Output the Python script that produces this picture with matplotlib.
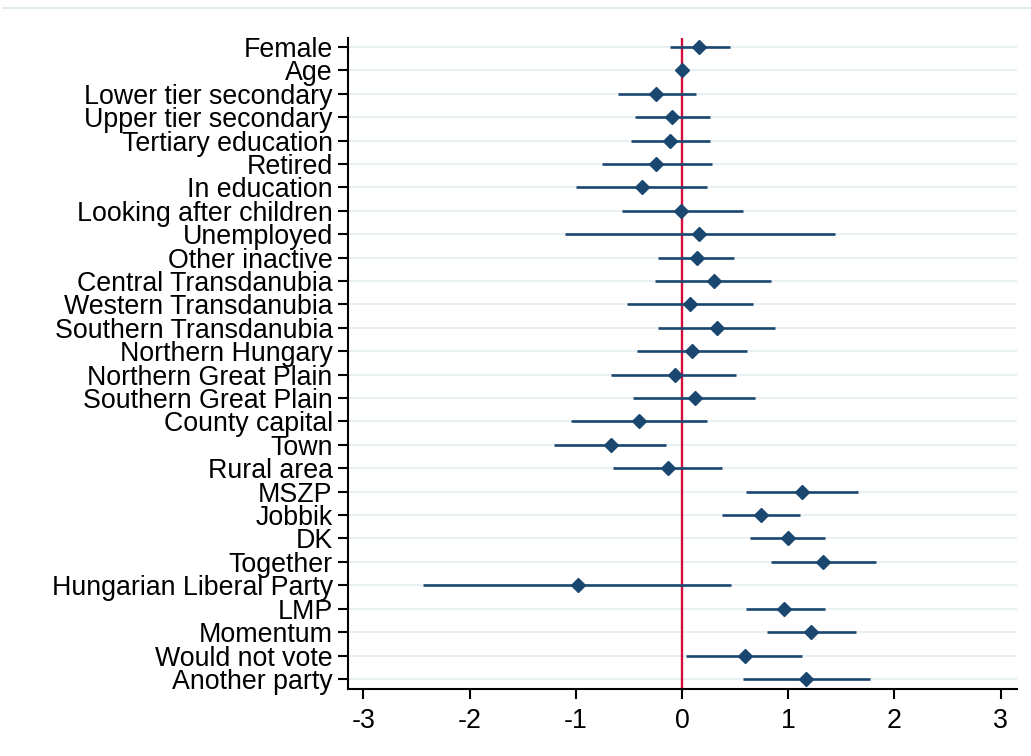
import matplotlib
matplotlib.use("Agg")
import matplotlib.pyplot as plt
from matplotlib.lines import Line2D

labels = ["Female", "Age", "Lower tier secondary", "Upper tier secondary",
          "Tertiary education", "Retired", "In education", "Looking after children",
          "Unemployed", "Other inactive", "Central Transdanubia", "Western Transdanubia",
          "Southern Transdanubia", "Northern Hungary", "Northern Great Plain",
          "Southern Great Plain", "County capital", "Town", "Rural area", "MSZP",
          "Jobbik", "DK", "Together", "Hungarian Liberal Party", "LMP", "Momentum",
          "Would not vote", "Another party"]
coef = [0.16, 0.00, -0.24, -0.09, -0.11, -0.24, -0.38, -0.01, 0.16, 0.14,
        0.30, 0.08, 0.33, 0.09, -0.07, 0.12, -0.40, -0.67, -0.13, 1.13,
        0.74, 1.00, 1.33, -0.98, 0.96, 1.21, 0.59, 1.17]
ci_low = [-0.11, -0.01, -0.60, -0.44, -0.48, -0.75, -1.00, -0.56, -1.10, -0.23,
          -0.25, -0.52, -0.23, -0.42, -0.67, -0.46, -1.04, -1.20, -0.65, 0.60,
          0.38, 0.64, 0.84, -2.44, 0.60, 0.80, 0.04, 0.57]
ci_high = [0.45, 0.01, 0.13, 0.26, 0.26, 0.28, 0.24, 0.57, 1.44, 0.49,
           0.84, 0.67, 0.88, 0.61, 0.51, 0.69, 0.24, -0.15, 0.38, 1.66,
           1.11, 1.35, 1.83, 0.46, 1.35, 1.64, 1.13, 1.77]
xticks = [-3, -2, -1, 0, 1, 2, 3]

navy = "#1A476F"
red = "#D0103A"
grid = "#E4EDF1"

plt.rcParams["font.family"] = ["Liberation Sans", "DejaVu Sans"]
fig = plt.figure(figsize=(10.31, 7.56), dpi=100)
ax = fig.add_axes([348/1031, 67/756, (1017-348)/1031, (718-67)/756])

ypos = list(range(len(labels)))
for y in ypos:
    ax.axhline(y, color=grid, lw=1.2, zorder=0)
ax.axvline(0, color=red, lw=1.7, zorder=1)
ax.hlines(ypos, ci_low, ci_high, color=navy, lw=1.9, zorder=2)
ax.plot(coef, ypos, linestyle="none", marker="D", ms=7, color=navy,
        mec=navy, zorder=3)

ax.set_xlim(-3.144, 3.154)
ax.set_ylim(len(labels) - 1 + 0.43, -0.38)
ax.set_yticks(ypos)
ax.set_yticklabels(labels, fontsize=19.3)
ax.set_xticks(xticks)
ax.set_xticklabels([str(t) for t in xticks], fontsize=19.3)
ax.tick_params(axis="y", length=7, width=1.5, pad=4)
ax.tick_params(axis="x", length=7, width=1.5, pad=7)
for s in ["top", "right"]:
    ax.spines[s].set_visible(False)
for s in ["left", "bottom"]:
    ax.spines[s].set_linewidth(1.5)
    ax.spines[s].set_color("black")

fig.add_artist(Line2D([3/1031, 1], [748/756, 748/756], color="#E1ECEF", lw=1.5,
                      transform=fig.transFigure))

fig.savefig("out.png", dpi=100)
